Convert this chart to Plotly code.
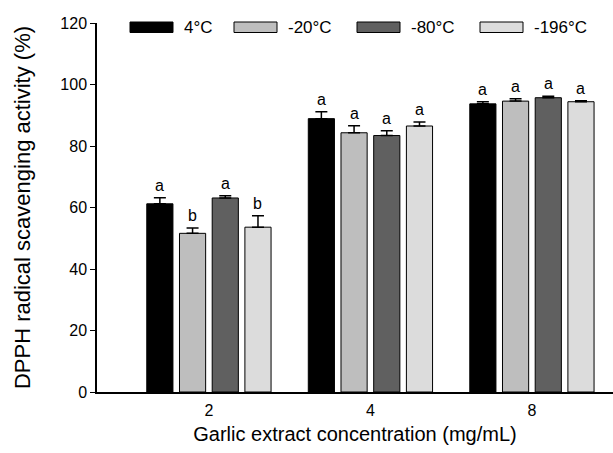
import plotly.graph_objects as go

categories = ["2", "4", "8"]
series_names = ["4°C", "-20°C", "-80°C", "-196°C"]
values = {
    "4°C":    [61.2, 88.9, 93.7],
    "-20°C":  [51.6, 84.3, 94.6],
    "-80°C":  [63.1, 83.4, 95.7],
    "-196°C": [53.6, 86.5, 94.4],
}
errors = {
    "4°C":    [2.0, 2.2, 0.7],
    "-20°C":  [1.7, 2.3, 0.8],
    "-80°C":  [0.7, 1.6, 0.5],
    "-196°C": [3.7, 1.3, 0.3],
}
letters = {
    "4°C":    ["a", "a", "a"],
    "-20°C":  ["b", "a", "a"],
    "-80°C":  ["a", "a", "a"],
    "-196°C": ["b", "a", "a"],
}
colors = ["#000000", "#bebebe", "#606060", "#dcdcdc"]

W, H = 613, 453
L, R, T, B = 97, 0, 23, 61
FONT = "Liberation Sans, Arial, sans-serif"
bargap = 0.19
xs = list(range(len(categories)))

fig = go.Figure()
for name, col in zip(series_names, colors):
    fig.add_trace(go.Bar(
        x=xs, y=values[name], name=name,
        marker=dict(color=col, line=dict(color="#000000", width=1)),
        error_y=dict(type="data", array=errors[name], visible=True,
                     color="#000000", thickness=1.5, width=6, symmetric=False,
                     arrayminus=[0] * len(xs)),
        showlegend=False,
    ))

# significance letters above error bars
slot = (1 - bargap) / len(series_names)
for k, name in enumerate(series_names):
    off = (k - (len(series_names) - 1) / 2) * slot
    for i in xs:
        fig.add_annotation(x=i + off, y=values[name][i] + errors[name][i],
                           text=letters[name][i], showarrow=False,
                           yanchor="bottom", yshift=2,
                           font=dict(family=FONT, size=16, color="#000000"))

# custom legend (wide swatches)
pw = W - L - R
ph = H - T - B
def px_x(px):
    return (px - L) / pw
def px_y(py):
    return (H - B - py) / ph
leg_x = [130, 234, 357, 480]
for name, col, lx in zip(series_names, colors, leg_x):
    fig.add_shape(type="rect", xref="paper", yref="paper",
                  x0=px_x(lx), x1=px_x(lx + 43), y0=px_y(32.5), y1=px_y(22),
                  fillcolor=col, line=dict(color="#000000", width=1))
    fig.add_annotation(xref="paper", yref="paper", x=px_x(lx + 52), y=px_y(27.5),
                       text=name, showarrow=False, xanchor="left", yanchor="middle",
                       font=dict(family=FONT, size=17, color="#000000"))

fig.update_layout(
    width=W, height=H,
    margin=dict(l=L, r=R, t=T, b=B, pad=0),
    paper_bgcolor="white", plot_bgcolor="white",
    barmode="group", bargap=bargap, bargroupgap=0.2,
    font=dict(family=FONT, size=16, color="#000000"),
    xaxis=dict(
        tickmode="array", tickvals=xs, ticktext=categories,
        range=[-0.693, 2.502], showline=True, linecolor="#000000", linewidth=1.5,
        ticks="", showgrid=False, zeroline=False, ticklabelstandoff=3,
        title=dict(text="Garlic extract concentration (mg/mL)",
                   font=dict(size=20), standoff=9),
        tickfont=dict(size=16),
    ),
    yaxis=dict(
        range=[0, 120], tickvals=[0, 20, 40, 60, 80, 100, 120],
        showline=True, linecolor="#000000", linewidth=1.5,
        ticks="outside", ticklen=5, tickcolor="#000000", tickwidth=1,
        showgrid=False, zeroline=False,
        title=dict(text="DPPH radical scavenging activity (%)",
                   font=dict(size=22), standoff=24),
        tickfont=dict(size=16),
    ),
)

fig.write_html("out.html")
